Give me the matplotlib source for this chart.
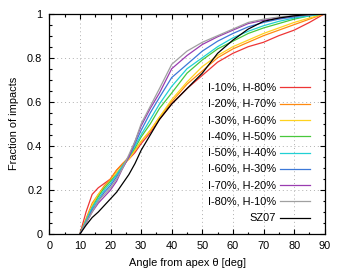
import numpy as np
import matplotlib
matplotlib.use("Agg")
import matplotlib.pyplot as plt
from matplotlib.ticker import MultipleLocator, FormatStrFormatter

plt.rcParams.update({
    "font.family": ["Liberation Sans", "DejaVu Sans"],
    "font.size": 7.9,
})

THETA = [10, 12, 14, 16, 18, 20, 22, 24, 26, 28, 30, 33, 36, 40, 45,
         50, 55, 60, 65, 70, 75, 80, 85, 90]

LABELS = ["I-10%, H-80%", "I-20%, H-70%", "I-30%, H-60%", "I-40%, H-50%",
          "I-50%, H-40%", "I-60%, H-30%", "I-70%, H-20%", "I-80%, H-10%", "SZ07"]
COLORS = ["#ee3535", "#ff8a10", "#ffd21e", "#48c83c", "#20d0d4",
          "#3c78d8", "#9a3cb0", "#a0a0a0", "#000000"]

i10 = [0, 0.10, 0.18, 0.21, 0.23, 0.25, 0.29, 0.32, 0.34, 0.37, 0.41, 0.46, 0.52, 0.59, 0.66,
       0.72, 0.78, 0.82, 0.85, 0.87, 0.90, 0.925, 0.96, 1.0]
i20 = [0, 0.07, 0.14, 0.18, 0.22, 0.25, 0.29, 0.32, 0.35, 0.38, 0.42, 0.47, 0.53, 0.60, 0.68,
       0.74, 0.80, 0.84, 0.87, 0.90, 0.925, 0.95, 0.975, 1.0]
i30 = [0, 0.06, 0.13, 0.18, 0.21, 0.24, 0.28, 0.31, 0.34, 0.38, 0.42, 0.47, 0.53, 0.61, 0.69,
       0.76, 0.81, 0.85, 0.88, 0.91, 0.935, 0.96, 0.98, 1.0]
i40 = [0, 0.06, 0.12, 0.17, 0.21, 0.24, 0.27, 0.31, 0.35, 0.39, 0.44, 0.50, 0.57, 0.64, 0.73,
       0.79, 0.84, 0.875, 0.91, 0.935, 0.955, 0.975, 0.99, 1.0]
i50 = [0, 0.06, 0.12, 0.16, 0.20, 0.23, 0.27, 0.31, 0.35, 0.40, 0.45, 0.52, 0.59, 0.67, 0.75,
       0.80, 0.85, 0.89, 0.92, 0.945, 0.965, 0.98, 0.99, 1.0]
i60 = [0, 0.05, 0.11, 0.15, 0.19, 0.22, 0.26, 0.30, 0.35, 0.41, 0.47, 0.55, 0.62, 0.71, 0.77,
       0.83, 0.875, 0.91, 0.94, 0.96, 0.975, 0.985, 0.995, 1.0]
i70 = [0, 0.05, 0.10, 0.14, 0.17, 0.20, 0.24, 0.30, 0.35, 0.42, 0.49, 0.57, 0.64, 0.75, 0.81,
       0.86, 0.895, 0.925, 0.955, 0.97, 0.98, 0.99, 0.995, 1.0]
i80 = [0, 0.05, 0.10, 0.15, 0.18, 0.21, 0.25, 0.30, 0.36, 0.42, 0.50, 0.58, 0.66, 0.77, 0.83,
       0.87, 0.90, 0.93, 0.96, 0.975, 0.985, 0.99, 0.995, 1.0]
sz07 = [0, 0.04, 0.075, 0.10, 0.13, 0.16, 0.19, 0.23, 0.27, 0.32, 0.38, 0.45, 0.52, 0.59, 0.66,
        0.73, 0.82, 0.88, 0.93, 0.965, 0.98, 0.99, 0.997, 1.0]
SERIES = [i10, i20, i30, i40, i50, i60, i70, i80, sz07]

fig = plt.figure(figsize=(3.44, 2.78), dpi=100)
ax = fig.add_axes([0.1433, 0.158, 0.8007, 0.793])

for y, c in zip(SERIES, COLORS):
    ax.plot(THETA, y, color=c, lw=0.9)

ax.set_xlim(0, 90); ax.set_ylim(0, 1)
ax.xaxis.set_major_locator(MultipleLocator(10)); ax.xaxis.set_minor_locator(MultipleLocator(5))
ax.yaxis.set_major_locator(MultipleLocator(0.2)); ax.yaxis.set_minor_locator(MultipleLocator(0.05))
ax.yaxis.set_major_formatter(FormatStrFormatter("%g"))
ax.tick_params(which="both", direction="in", top=True, right=True, width=0.8)
ax.tick_params(which="major", length=3.6, pad=5)
ax.tick_params(which="minor", length=1.8)
ax.grid(True, which="major", color="#b0b0b0", ls=(0, (1, 3)), lw=0.7)
for s in ax.spines.values():
    s.set_linewidth(0.9)
ax.set_xlabel("Angle from apex θ [deg]", labelpad=5)
ax.set_ylabel("Fraction of impacts", labelpad=6)

# gnuplot-style key: right-aligned text, sample line on the right
for k, (lab, c) in enumerate(zip(LABELS, COLORS)):
    yk = 0.665 - k * 0.0738
    ax.text(0.8225, yk, lab, transform=ax.transAxes, ha="right", va="center")
    ax.plot([0.836, 0.948], [yk, yk], transform=ax.transAxes, color=c, lw=0.9)

fig.savefig("out.png", dpi=100)
